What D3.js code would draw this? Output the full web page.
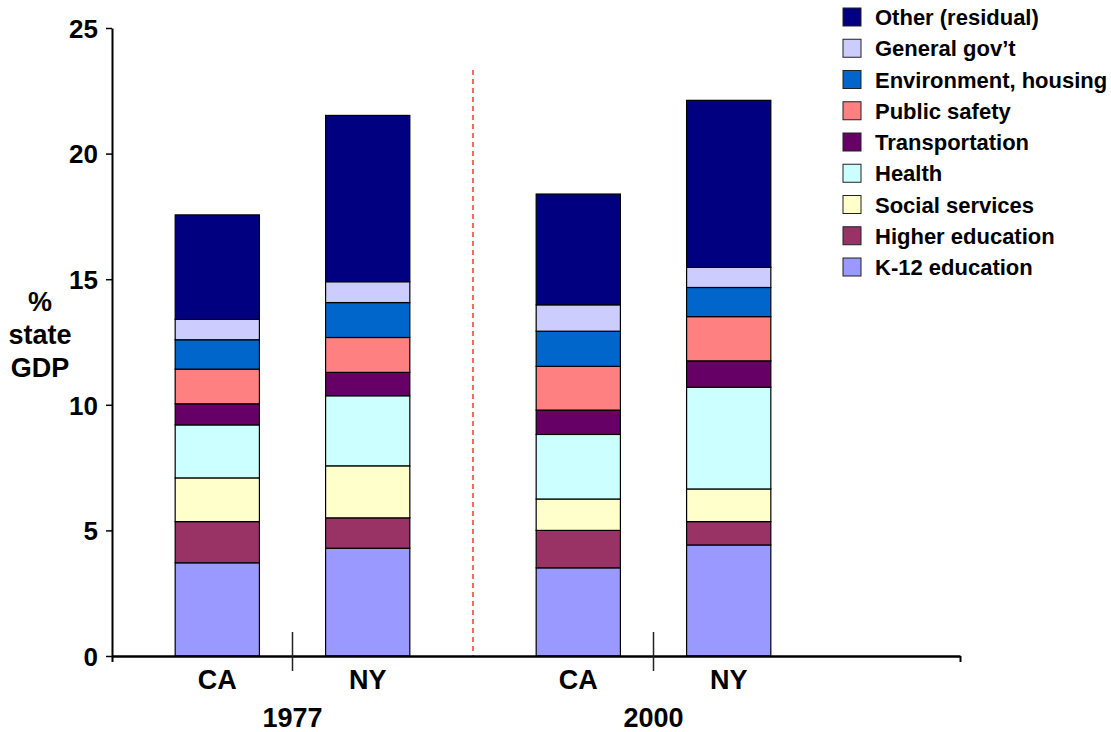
<!DOCTYPE html>
<html>
<head>
<meta charset="utf-8">
<script src="https://cdn.jsdelivr.net/npm/d3@7"></script>
<style>
  body { margin: 0; background: #fff; }
  text { font-family: "Liberation Sans", Arial, sans-serif; font-weight: bold; fill: #000; }
</style>
</head>
<body>
<script>
// spending categories, bottom of stack first
var categories = ['K-12 education', 'Higher education', 'Social services', 'Health', 'Transportation',
  'Public safety', 'Environment, housing', 'General gov\u2019t', 'Other (residual)']
var colors = ['#9999FF', '#993366', '#FFFFCC', '#CCFFFF', '#660066', '#FF8080', '#0066CC', '#CCCCFF', '#000080']

var years = ['1977', '2000']
var states = ['CA', 'NY']

// % of state GDP, same order as categories
var ca1977 = [3.71, 1.64, 1.74, 2.11, 0.84, 1.38, 1.17, 0.81, 4.16]
var ny1977 = [4.29, 1.21, 2.07, 2.79, 0.93, 1.39, 1.39, 0.83, 6.62]
var ca2000 = [3.51, 1.49, 1.25, 2.57, 0.97, 1.74, 1.40, 1.05, 4.41]
var ny2000 = [4.42, 0.93, 1.30, 4.05, 1.05, 1.76, 1.16, 0.80, 6.65]

var yTicks = [0, 5, 10, 15, 20, 25]

var series = { '1977': { CA: ca1977, NY: ny1977 }, '2000': { CA: ca2000, NY: ny2000 } }

// rows for d3.stack
var rows = []
years.forEach(yr => states.forEach(st => {
  var r = { year: yr, state: st }
  categories.forEach((c, i) => r[c] = series[yr][st][i])
  rows.push(r)
}))

var W = 1111, H = 732
var plotLeft = 112, plotRight = 960, plotTop = 28, plotBottom = 656  // 'top' is taken by window.top

var svg = d3.select('body').append('svg').attr('width', W).attr('height', H)

var y = d3.scaleLinear().domain([0, 25]).range([plotBottom, plotTop])
var xYear = d3.scaleBand().domain(years).range([plotLeft, plotLeft + 722]).padding(0)
var xState = d3.scaleBand().domain(states).range([0, xYear.bandwidth()])
  .paddingInner(0.44).paddingOuter(0.42)

var stacked = d3.stack().keys(categories)(rows)

var layer = svg.selectAll('g.layer')
  .data(stacked)
  .enter().append('g')
    .attr('class', 'layer')
    .attr('fill', (d, i) => colors[i])

layer.selectAll('rect')
  .data(d => d)
  .enter().append('rect')
    .attr('x', d => xYear(d.data.year) + xState(d.data.state))
    .attr('width', xState.bandwidth())
    .attr('y', d => y(d[1]))
    .attr('height', d => y(d[0]) - y(d[1]))
    .attr('stroke', '#000')
    .attr('stroke-width', 1.2)

// red dashed divider between the two years
svg.append('line')
  .attr('x1', xYear('2000')).attr('x2', xYear('2000'))
  .attr('y1', 70).attr('y2', plotBottom)
  .attr('stroke', '#ff0000').attr('stroke-width', 1.2)
  .attr('stroke-dasharray', '5,4')

// y axis
var yAxis = svg.append('g')
  .attr('transform', `translate(${plotLeft},0)`)
  .call(d3.axisLeft(y).tickValues(yTicks).tickSize(6).tickSizeOuter(0).tickPadding(8))
yAxis.select('.domain').attr('stroke-width', 2)
yAxis.selectAll('.tick line').attr('stroke-width', 1.5)
yAxis.selectAll('.tick text')
  .style('font-size', '26px').attr('font-family', null).attr('fill', '#000').attr('dy', '0.36em')

// x axis line with end ticks
var xLine = d3.scaleLinear().domain([0, 1]).range([plotLeft, plotRight])
var xAxis = svg.append('g')
  .attr('transform', `translate(0,${plotBottom})`)
  .call(d3.axisBottom(xLine).tickValues([0, 1]).tickFormat('').tickSize(6).tickSizeOuter(0))
xAxis.select('.domain').attr('stroke-width', 2.5)
xAxis.selectAll('.tick line').attr('stroke-width', 2)

// separators between states inside each year
svg.selectAll('line.sep')
  .data(years)
  .enter().append('line')
    .attr('class', 'sep')
    .attr('x1', d => xYear(d) + xYear.bandwidth() / 2)
    .attr('x2', d => xYear(d) + xYear.bandwidth() / 2)
    .attr('y1', 632).attr('y2', 671)
    .attr('stroke', '#222').attr('stroke-width', 1.5)

// state labels
svg.selectAll('text.state')
  .data(rows)
  .enter().append('text')
    .attr('class', 'state')
    .attr('x', d => xYear(d.year) + xState(d.state) + xState.bandwidth() / 2)
    .attr('y', 689)
    .attr('text-anchor', 'middle')
    .style('font-size', '27px')
    .text(d => d.state)

// year labels
svg.selectAll('text.year')
  .data(years)
  .enter().append('text')
    .attr('class', 'year')
    .attr('x', d => xYear(d) + xYear.bandwidth() / 2)
    .attr('y', 727)
    .attr('text-anchor', 'middle')
    .style('font-size', '27px')
    .text(d => d)

// y title
var ttl = svg.append('text')
  .attr('text-anchor', 'middle')
  .style('font-size', '27px')
ttl.selectAll('tspan')
  .data(['%', 'state', 'GDP'])
  .enter().append('tspan')
    .attr('x', 40)
    .attr('y', (d, i) => 311 + i * 33)
    .text(d => d)

// legend, top item is the top of the stack
var legendItems = categories.map((c, i) => ({ name: c, color: colors[i] })).reverse()
var legendY = d3.scalePoint().domain(legendItems.map(d => d.name)).range([17, 267])

var lg = svg.selectAll('g.legend')
  .data(legendItems)
  .enter().append('g')
    .attr('class', 'legend')
    .attr('transform', d => `translate(843,${legendY(d.name)})`)

lg.append('rect')
  .attr('x', 0).attr('y', -9)
  .attr('width', 18).attr('height', 18)
  .attr('fill', d => d.color)
  .attr('stroke', '#222').attr('stroke-width', 1)

lg.append('text')
  .attr('x', 32).attr('y', 8)
  .style('font-size', '22px')
  .text(d => d.name)
</script>
</body>
</html>
